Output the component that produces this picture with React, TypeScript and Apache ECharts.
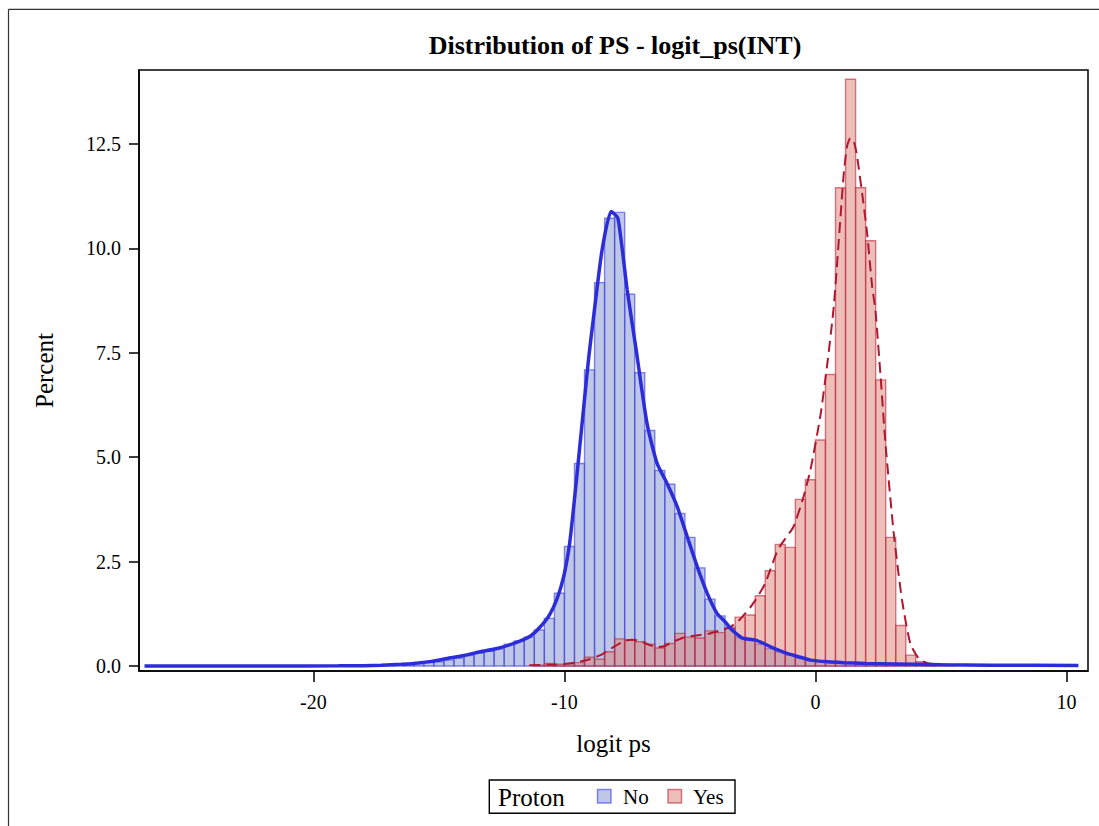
import React, { useEffect, useRef } from "react";
import * as echarts from "echarts";

const FONT = '"Liberation Serif", "Times New Roman", Times, serif';

const titleText = "Distribution of PS - logit_ps(INT)";
const xName = "logit ps";
const yName = "Percent";
const legendTitle = "Proton";
const groupNames = ["No", "Yes"];

const xTicks = [-20, -10, 0, 10];
const yTicks = [0, 2.5, 5, 7.5, 10, 12.5];

const binWidth = 0.4;

// "No" histogram: bins of width 0.4 starting at -17.2
const blueStart = -17.2;
const blueHeights = [
  0.02, 0.03, 0.04, 0.06, 0.08, 0.1, 0.14, 0.19, 0.25, 0.31, 0.36, 0.41, 0.52, 0.6,
  0.69, 0.86, 1.14, 1.74, 2.86, 4.85, 7.09, 9.18, 10.72, 10.86, 8.9, 7.02, 5.64,
  4.68, 4.35, 3.65, 3.08, 2.35, 1.6, 1.2, 0.92, 0.68, 0.62, 0.52, 0.42, 0.34, 0.26,
  0.2, 0.15, 0.12, 0.09, 0.08, 0.07, 0.06, 0.05, 0.05, 0.04, 0.03, 0.03, 0.02, 0.02,
];

// "Yes" histogram: bins of width 0.4 starting at -11.2
const redStart = -11.2;
const redHeights = [
  0.02, 0.06, 0.04, 0.05, 0.08, 0.21, 0.16, 0.34, 0.65, 0.63, 0.58, 0.52, 0.43, 0.54,
  0.78, 0.69, 0.67, 0.84, 0.8, 0.9, 1.17, 1.22, 1.68, 2.28, 2.91, 2.84, 3.99, 4.46,
  5.41, 6.98, 11.45, 14.05, 11.45, 10.18, 6.85, 3.08, 0.97, 0.26, 0.1, 0.04, 0.02, 0.01,
];

// Kernel density curve for "No"
const blueCurveX = [
  -26.73, -22, -19, -18, -17.3, -16.5, -16.0, -15.3, -14.67, -14.0, -13.35, -12.68,
  -12.02, -11.35, -10.96, -10.6, -10.3, -10.03, -9.8, -9.63, -9.43, -9.23, -9.03,
  -8.83, -8.5, -8.14, -7.87, -7.5, -7.15, -6.71, -6.31, -5.91, -5.51, -5.11, -4.71,
  -4.31, -3.92, -3.6, -3.32, -3.0, -2.86, -2.39, -2.1, -1.79, -1.13, -0.6, -0.2, 0.5,
  1.13, 2.0, 3.12, 5.0, 7.0, 10.48,
];
const blueCurveY = [
  0.0, 0.0, 0.003, 0.008, 0.02, 0.04, 0.06, 0.11, 0.18, 0.25, 0.34, 0.42, 0.54, 0.72,
  0.94, 1.22, 1.6, 2.14, 2.9, 3.82, 5.0, 6.21, 7.4, 8.4, 9.96, 10.88, 10.72, 9.0, 7.6,
  5.81, 4.85, 4.37, 3.82, 3.1, 2.38, 1.74, 1.26, 1.06, 0.86, 0.7, 0.66, 0.62, 0.55,
  0.46, 0.3, 0.21, 0.14, 0.1, 0.08, 0.06, 0.05, 0.03, 0.02, 0.01,
];

// Kernel density curve for "Yes"
const redCurveX = [
  -11.4, -10.5, -10.0, -9.5, -9.0, -8.5, -8.0, -7.6, -7.3, -7.0, -6.6, -6.3, -6.0,
  -5.7, -5.3, -5.0, -4.6, -4.2, -3.8, -3.4, -3.0, -2.6, -2.3, -2.0, -1.5, -1.2, -0.87,
  -0.5, -0.2, 0.2, 0.46, 0.73, 1.0, 1.13, 1.26, 1.39, 1.53, 1.66, 1.86, 2.06, 2.26,
  2.39, 2.6, 2.79, 3.12, 3.45, 3.78, 4.11, 4.4, 4.71, 5.5, 6.5, 7.2,
];
const redCurveY = [
  0.02, 0.03, 0.05, 0.09, 0.16, 0.28, 0.47, 0.6, 0.63, 0.6, 0.5, 0.45, 0.48, 0.57,
  0.67, 0.71, 0.74, 0.78, 0.85, 0.93, 1.12, 1.4, 1.66, 1.98, 2.78, 3.05, 3.34, 4.0,
  4.69, 6.0, 7.17, 8.6, 10.76, 11.8, 12.44, 12.64, 12.56, 12.2, 11.32, 10.36, 9.08,
  8.52, 6.9, 5.33, 3.18, 1.58, 0.54, 0.18, 0.08, 0.05, 0.03, 0.02, 0.02,
];

const BLUE_FILL = "rgba(125,145,205,0.5)";
const BLUE_EDGE = "rgba(60,60,220,0.6)";
const RED_FILL = "rgba(221,125,115,0.5)";
const RED_EDGE = "rgba(185,40,60,0.6)";
const BLUE_LINE = "#2C2CD8";
const RED_LINE = "#B01830";

function histData(start: number, heights: number[]) {
  return heights.map((h, i) => {
    const lo = +(start + i * binWidth).toFixed(2);
    return [lo, +(lo + binWidth).toFixed(2), h];
  });
}

function makeRender(fill: string, stroke: string) {
  return (params: any, api: any) => {
    const lo = api.value(0);
    const hi = api.value(1);
    const h = api.value(2);
    const p0 = api.coord([lo, h]);
    const p1 = api.coord([hi, 0]);
    return {
      type: "rect",
      shape: { x: p0[0], y: p0[1], width: p1[0] - p0[0], height: p1[1] - p0[1] },
      style: { fill, stroke, lineWidth: 1.4 },
    };
  };
}

export default function App() {
  const ref = useRef<HTMLDivElement>(null);
  useEffect(() => {
    document.documentElement.style.overflow = "hidden";
    document.body.style.overflow = "hidden";
    document.body.style.margin = "0";
    if (!ref.current) return;
    const chart = echarts.init(ref.current, undefined, { renderer: "svg" });
    const zip = (xs: number[], ys: number[]) => xs.map((x, i) => [x, ys[i]]);
    const option: any = {
      animation: false,
      backgroundColor: "#fff",
      title: {
        text: titleText,
        left: 610,
        top: 27,
        textAlign: "center",
        textStyle: { fontFamily: FONT, fontSize: 26, fontWeight: "bold", color: "#000" },
      },
      grid: {
        left: 139,
        top: 70,
        right: 11,
        bottom: 155,
        show: true,
        borderColor: "#000",
        borderWidth: 1.5,
        backgroundColor: "transparent",
      },
      xAxis: {
        type: "value",
        min: -26.95,
        max: 10.86,
        name: xName,
        nameLocation: "middle",
        nameGap: 60,
        nameTextStyle: { fontFamily: FONT, fontSize: 25, color: "#000" },
        axisLine: { show: true, onZero: false, lineStyle: { color: "#000", width: 1.5 } },
        axisTick: { show: true, length: 11, customValues: xTicks, lineStyle: { color: "#000", width: 1.5 } },
        axisLabel: { customValues: xTicks, fontFamily: FONT, fontSize: 20, color: "#000", margin: 21 },
        splitLine: { show: false },
      },
      yAxis: {
        type: "value",
        min: -0.12,
        max: 14.27,
        name: yName,
        nameLocation: "middle",
        nameGap: 82,
        nameRotate: 90,
        nameTextStyle: { fontFamily: FONT, fontSize: 25, color: "#000" },
        axisLine: { show: true, onZero: false, lineStyle: { color: "#000", width: 1.5 } },
        axisTick: { show: true, length: 10, customValues: yTicks, lineStyle: { color: "#000", width: 1.5 } },
        axisLabel: {
          customValues: yTicks,
          fontFamily: FONT,
          fontSize: 20,
          color: "#000",
          margin: 18,
          formatter: (v: number) => v.toFixed(1),
        },
        splitLine: { show: false },
      },
      series: [
        {
          name: groupNames[0],
          type: "custom",
          renderItem: makeRender(BLUE_FILL, BLUE_EDGE),
          encode: { x: [0, 1], y: 2 },
          data: histData(blueStart, blueHeights),
          z: 2,
        },
        {
          name: groupNames[1],
          type: "custom",
          renderItem: makeRender(RED_FILL, RED_EDGE),
          encode: { x: [0, 1], y: 2 },
          data: histData(redStart, redHeights),
          z: 3,
        },
        {
          name: groupNames[1] + " density",
          type: "line",
          data: zip(redCurveX, redCurveY),
          showSymbol: false,
          smooth: 0.2,
          lineStyle: { color: RED_LINE, width: 2, type: [11, 6] },
          z: 4,
        },
        {
          name: groupNames[0] + " density",
          type: "line",
          data: zip(blueCurveX, blueCurveY),
          showSymbol: false,
          smooth: 0.2,
          lineStyle: { color: BLUE_LINE, width: 3.5 },
          z: 5,
        },
      ],
      graphic: [
        {
          type: "line",
          shape: { x1: 8.5, y1: 9.3, x2: 1200, y2: 9.3 },
          style: { stroke: "#333", lineWidth: 1.2 },
          silent: true,
        },
        {
          type: "line",
          shape: { x1: 8.5, y1: 9.3, x2: 8.5, y2: 900 },
          style: { stroke: "#333", lineWidth: 1.2 },
          silent: true,
        },
        {
          type: "rect",
          shape: { x: 489.3, y: 780, width: 245.7, height: 33.3 },
          style: { fill: "none", stroke: "#000", lineWidth: 1.4 },
        },
        {
          type: "text",
          x: 498,
          y: 797,
          style: { text: legendTitle, font: `25px ${FONT}`, fill: "#000", verticalAlign: "middle" },
        },
        {
          type: "rect",
          shape: { x: 597.5, y: 789.5, width: 13.5, height: 13.5 },
          style: { fill: BLUE_FILL, stroke: BLUE_EDGE, lineWidth: 1.5 },
        },
        {
          type: "text",
          x: 623,
          y: 797,
          style: { text: groupNames[0], font: `21px ${FONT}`, fill: "#000", verticalAlign: "middle" },
        },
        {
          type: "rect",
          shape: { x: 668, y: 789.5, width: 13.5, height: 13.5 },
          style: { fill: RED_FILL, stroke: RED_EDGE, lineWidth: 1.5 },
        },
        {
          type: "text",
          x: 693,
          y: 797,
          style: { text: groupNames[1], font: `21px ${FONT}`, fill: "#000", verticalAlign: "middle" },
        },
      ],
    };
    chart.setOption(option);
    return () => chart.dispose();
  }, []);
  return <div ref={ref} style={{ width: 1099, height: 826 }} />;
}
